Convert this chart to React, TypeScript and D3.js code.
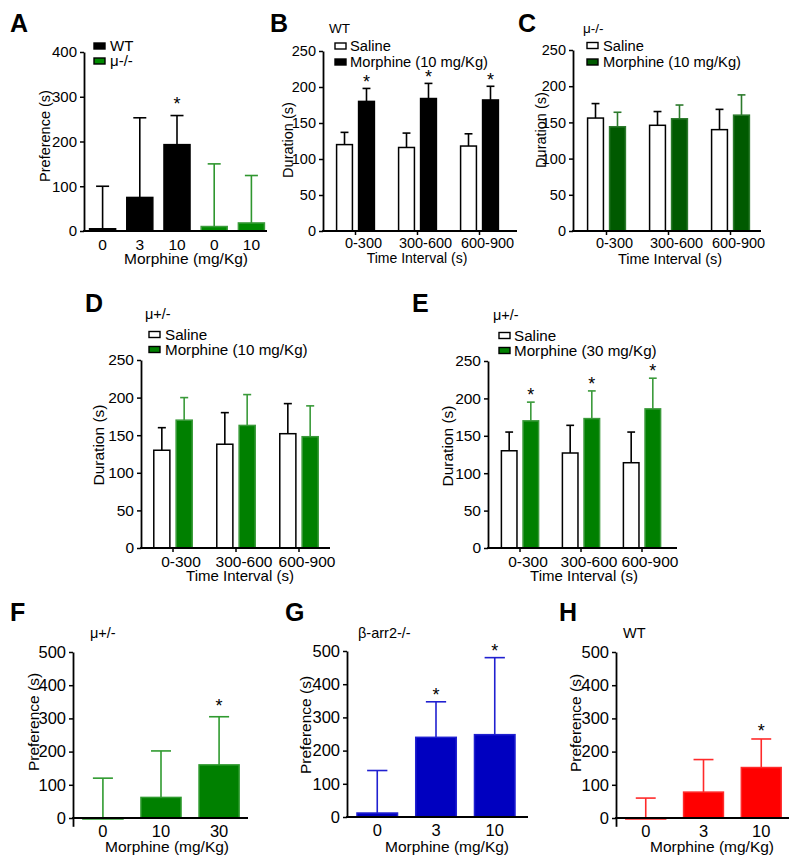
import * as d3 from "d3";
import React from "react";

const FONT = "'Liberation Sans', Arial, Helvetica, sans-serif";

// ---- panel A : preference, WT vs mu-/- ----
const aDoses = ["0", "3", "10", "0", "10"];
const aGenotypes = ["WT", "WT", "WT", "μ-/-", "μ-/-"];
const aMeans = [5, 75, 193, 10, 18];
const aSem = [95, 178, 65, 140, 106];
const aStars = [false, false, true, false, false];
const aTicks = [0, 100, 200, 300, 400];

// ---- panels B-E : duration per time interval ----
const intervals = ["0-300", "300-600", "600-900"];
const treatments = ["Saline", "Morphine"];
const durTicks = [0, 50, 100, 150, 200, 250];

const bSaline = [120, 116, 118];
const bSalineSem = [17, 20, 17];
const bMorphine = [180, 184, 182];
const bMorphineSem = [18, 21, 19];
const bStars = [true, true, true];

const cSaline = [156, 146, 140];
const cSalineSem = [20, 19, 28];
const cMorphine = [144, 155, 160];
const cMorphineSem = [20, 19, 28];
const cStars = [false, false, false];

const dSaline = [130, 138, 152];
const dSalineSem = [30, 42, 40];
const dMorphine = [170, 163, 148];
const dMorphineSem = [30, 41, 41];
const dStars = [false, false, false];

const eSaline = [130, 127, 114];
const eSalineSem = [25, 37, 41];
const eMorphine = [170, 173, 186];
const eMorphineSem = [25, 37, 41];
const eStars = [true, true, true];

// ---- panels F-H : preference by dose ----
const prefTicks = [0, 100, 200, 300, 400, 500];
const fDoses = ["0", "10", "30"];
const fMeans = [-3, 62, 160];
const fSem = [123, 140, 145];
const fStars = [false, false, true];

const gDoses = ["0", "3", "10"];
const gMeans = [12, 240, 248];
const gSem = [128, 107, 232];
const gStars = [false, true, true];

const hDoses = ["0", "3", "10"];
const hMeans = [-3, 78, 152];
const hSem = [63, 98, 86];
const hStars = [false, false, true];

function txt(g, x, y, s, fs, opts: any = {}) {
  const t = g
    .append("text")
    .attr("x", x)
    .attr("y", y)
    .attr("font-family", FONT)
    .attr("font-size", fs)
    .attr("fill", "#000")
    .text(s);
  if (opts.anchor) t.attr("text-anchor", opts.anchor);
  if (opts.bold) t.attr("font-weight", "bold");
  return t;
}

function yTitle(g, x, cy, s, fs) {
  g.append("text")
    .attr("transform", "translate(" + x + "," + cy + ") rotate(-90)")
    .attr("text-anchor", "middle")
    .attr("font-family", FONT)
    .attr("font-size", fs)
    .text(s);
}

function yAxis(g, y, x, ticks, fs) {
  const ax = g
    .append("g")
    .attr("transform", "translate(" + x + ",0)")
    .call(d3.axisLeft(y).tickValues(ticks).tickSize(4).tickPadding(3).tickSizeOuter(0));
  ax.select(".domain").attr("stroke", "#000").attr("stroke-width", 1.8);
  ax.selectAll(".tick line").attr("stroke", "#000").attr("stroke-width", 1.5);
  ax.selectAll("text").attr("font-family", FONT).attr("font-size", fs).attr("fill", "#000");
}

function xLine(g, x0, x1, yy) {
  g.append("line")
    .attr("x1", x0 - 0.9)
    .attr("x2", x1)
    .attr("y1", yy)
    .attr("y2", yy)
    .attr("stroke", "#000")
    .attr("stroke-width", 1.8);
}

function bar(g, x, w, y, v, fill, stroke) {
  const y0 = y(0);
  const y1 = y(v);
  g.append("rect")
    .attr("x", x)
    .attr("width", w)
    .attr("y", Math.min(y0, y1))
    .attr("height", Math.max(Math.abs(y0 - y1), 1))
    .attr("fill", fill)
    .attr("stroke", stroke)
    .attr("stroke-width", 1.5);
}

function errBar(g, cx, w, y, v, sem, color, star, gap) {
  const top = y(v + sem);
  g.append("line")
    .attr("x1", cx).attr("x2", cx)
    .attr("y1", y(Math.max(v, 0))).attr("y2", top)
    .attr("stroke", color).attr("stroke-width", 1.6);
  g.append("line")
    .attr("x1", cx - w / 4).attr("x2", cx + w / 4)
    .attr("y1", top).attr("y2", top)
    .attr("stroke", color).attr("stroke-width", 1.6);
  if (star) txt(g, cx, top - gap, "*", 18, { anchor: "middle" });
}

function legend(g, x, textX, rows, items, fs) {
  items.forEach((it, i) => {
    g.append("rect")
      .attr("x", x)
      .attr("y", rows[i] - 3)
      .attr("width", 11)
      .attr("height", 6)
      .attr("fill", it.fill)
      .attr("stroke", it.stroke)
      .attr("stroke-width", 1.4);
    txt(g, textX, rows[i] + fs * 0.36, it.label, fs);
  });
}

function xTicks(g, x, yy, ts, pad, fs, fmt, dx) {
  const ax = g
    .append("g")
    .attr("transform", "translate(0," + yy + ")")
    .call(d3.axisBottom(x).tickSize(ts).tickPadding(pad).tickFormat(fmt));
  ax.select(".domain").remove();
  ax.selectAll(".tick line").attr("stroke", "#000").attr("stroke-width", 1.5);
  ax.selectAll("text")
    .attr("font-family", FONT)
    .attr("font-size", fs)
    .attr("fill", "#000")
    .attr("dx", dx);
}

function grouped(svg, c) {
  const g = svg.append("g");
  const y = d3.scaleLinear().domain([0, 250]).range([c.y0, c.y1]);
  const x0 = d3.scaleBand().domain(intervals).range(c.range);
  const x1 = d3
    .scaleBand()
    .domain(treatments)
    .range([0, x0.bandwidth()])
    .paddingInner(0.28)
    .paddingOuter(0.55);
  const w = x1.bandwidth();
  intervals.forEach((iv, i) => {
    const xs = x0(iv) + x1("Saline");
    const xm = x0(iv) + x1("Morphine");
    bar(g, xs, w, y, c.saline[i], "#fff", "#000");
    errBar(g, xs + w / 2, w, y, c.saline[i], c.salineSem[i], "#000", false, 0);
    bar(g, xm, w, y, c.morphine[i], c.fill, c.stroke);
    errBar(g, xm + w / 2, w, y, c.morphine[i], c.morphineSem[i], c.err, c.stars[i], c.starGap);
  });
  yAxis(g, y, c.axisX, durTicks, c.fs);
  xLine(g, c.axisX, c.axisEnd, y(0));
  xTicks(g, x0, y(0), 4, c.tickPad, c.fs, (d) => d, 8);
  yTitle(g, c.yTitleX, c.yTitleY, "Duration (s)", c.fs);
  txt(g, c.xTitleX, c.xTitleY, "Time Interval (s)", c.titleFs, { anchor: "middle" });
  txt(g, c.letterX, c.letterY, c.letter, 25, { bold: true });
  txt(g, c.nameX, c.nameY, c.name, c.nameFs);
  legend(g, c.legX, c.legTextX, c.legRows, [
    { label: "Saline", fill: "#fff", stroke: "#000" },
    { label: c.morphLabel, fill: c.fill, stroke: c.legStroke },
  ], c.legFs);
}

function single(svg, c) {
  const g = svg.append("g");
  const y = d3.scaleLinear().domain([c.yMin, 500]).range([c.yLow, c.y1]);
  const x = d3
    .scaleBand()
    .domain(d3.range(c.doses.length))
    .range(c.range)
    .paddingInner(0.31)
    .paddingOuter(0.17);
  const w = x.bandwidth();
  c.means.forEach((m, i) => {
    bar(g, x(i), w, y, m, c.fill, c.stroke);
    errBar(g, x(i) + w / 2, w, y, m, c.sem[i], c.err, c.stars[i], c.starGap);
  });
  yAxis(g, y, c.axisX, prefTicks, 16.5);
  xLine(g, c.axisX, c.axisEnd, y(0));
  xTicks(g, x, y(0), 0, 7.5, 16.5, (i) => c.doses[i], 0);
  yTitle(g, c.yTitleX, c.yTitleY, "Preference (s)", 15.5);
  txt(g, c.xTitleX, 852, "Morphine (mg/Kg)", 15.5, { anchor: "middle" });
  txt(g, c.letterX, 621, c.letter, 25, { bold: true });
  txt(g, c.nameX, 638, c.name, 14.5);
}

const App = () => {
  const ref = React.useRef(null);
  React.useEffect(() => {
    const svg = d3.select(ref.current);
    svg.selectAll("*").remove();
    svg.append("rect").attr("width", 800).attr("height", 863).attr("fill", "#fff");

    // ---- A ----
    const gA = svg.append("g");
    const yA = d3.scaleLinear().domain([0, 400]).range([231, 52]);
    const xA = d3.scaleBand().domain(d3.range(aDoses.length)).range([84, 270]).paddingInner(0.3).paddingOuter(0.15);
    const wA = xA.bandwidth();
    aMeans.forEach((m, i) => {
      const wt = aGenotypes[i] === "WT";
      bar(gA, xA(i), wA, yA, m, wt ? "#000" : "#008a00", wt ? "#000" : "#3c9c3c");
      errBar(gA, xA(i) + wA / 2, wA, yA, m, aSem[i], wt ? "#000" : "#2f962f", aStars[i], 6);
    });
    yAxis(gA, yA, 84, aTicks, 15);
    xLine(gA, 84, 267, yA(0));
    xTicks(gA, xA, yA(0), 0, 7.8, 15.5, (i) => aDoses[i], 0);
    yTitle(gA, 50, 136, "Preference (s)", 14.5);
    txt(gA, 186, 264, "Morphine (mg/Kg)", 15.5, { anchor: "middle" });
    txt(gA, 10, 32, "A", 25, { bold: true });
    legend(gA, 94, 110, [46, 61], [
      { label: "WT", fill: "#000", stroke: "#000" },
      { label: "μ-/-", fill: "#008a00", stroke: "#000" },
    ], 15);

    // ---- B-E ----
    grouped(svg, {
      letter: "B", letterX: 270, letterY: 32, name: "WT", nameX: 329, nameY: 33, nameFs: 13.5,
      y0: 231, y1: 51, range: [324.5, 510.5], axisX: 323, axisEnd: 517, fs: 14.5, titleFs: 14, tickPad: 2.5,
      saline: bSaline, salineSem: bSalineSem, morphine: bMorphine, morphineSem: bMorphineSem, stars: bStars, starGap: 0,
      fill: "#000", stroke: "#000", err: "#000", legStroke: "#000", morphLabel: "Morphine (10 mg/Kg)",
      yTitleX: 293, yTitleY: 140, xTitleX: 417, xTitleY: 263,
      legX: 335, legTextX: 350, legRows: [46, 62], legFs: 14.7,
    });
    grouped(svg, {
      letter: "C", letterX: 518, letterY: 32, name: "μ-/-", nameX: 583, nameY: 33, nameFs: 13.5,
      y0: 231, y1: 50, range: [575.5, 761.5], axisX: 573, axisEnd: 761, fs: 14.5, titleFs: 14.5, tickPad: 2.5,
      saline: cSaline, salineSem: cSalineSem, morphine: cMorphine, morphineSem: cMorphineSem, stars: cStars, starGap: 0,
      fill: "#005a00", stroke: "#2c7a2c", err: "#2c7a2c", legStroke: "#000", morphLabel: "Morphine (10 mg/Kg)",
      yTitleX: 546, yTitleY: 130, xTitleX: 670, xTitleY: 264,
      legX: 587, legTextX: 603, legRows: [45.5, 62], legFs: 14.7,
    });
    grouped(svg, {
      letter: "D", letterX: 85, letterY: 312, name: "μ+/-", nameX: 145, nameY: 319, nameFs: 14.5,
      y0: 548, y1: 360, range: [141.5, 330.5], axisX: 141, axisEnd: 330, fs: 15.5, titleFs: 15, tickPad: 4,
      saline: dSaline, salineSem: dSalineSem, morphine: dMorphine, morphineSem: dMorphineSem, stars: dStars, starGap: 1,
      fill: "#008000", stroke: "#3a9a3a", err: "#3a9a3a", legStroke: "#000", morphLabel: "Morphine (10 mg/Kg)",
      yTitleX: 104, yTitleY: 445, xTitleX: 240, xTitleY: 581,
      legX: 149, legTextX: 165, legRows: [334.5, 349.5], legFs: 15.2,
    });
    grouped(svg, {
      letter: "E", letterX: 412, letterY: 312, name: "μ+/-", nameX: 493, nameY: 320, nameFs: 14.5,
      y0: 548, y1: 361, range: [489.5, 672.5], axisX: 488, axisEnd: 677, fs: 15.5, titleFs: 15, tickPad: 4,
      saline: eSaline, salineSem: eSalineSem, morphine: eMorphine, morphineSem: eMorphineSem, stars: eStars, starGap: 1,
      fill: "#008000", stroke: "#3a9a3a", err: "#3a9a3a", legStroke: "#000", morphLabel: "Morphine (30 mg/Kg)",
      yTitleX: 453, yTitleY: 446, xTitleX: 584, xTitleY: 581,
      legX: 499, legTextX: 514, legRows: [335.5, 350.5], legFs: 15.2,
    });

    // ---- F-H ----
    single(svg, {
      letter: "F", letterX: 10, name: "μ+/-", nameX: 90,
      doses: fDoses, means: fMeans, sem: fSem, stars: fStars, starGap: 5,
      yMin: -25, yLow: 826.3, y1: 652, range: [73, 249], axisX: 73, axisEnd: 248,
      fill: "#008000", stroke: "#2f9a2f", err: "#2f9a2f",
      yTitleX: 39, yTitleY: 722, xTitleX: 167,
    });
    single(svg, {
      letter: "G", letterX: 285, name: "β-arr2-/-", nameX: 358,
      doses: gDoses, means: gMeans, sem: gSem, stars: gStars, starGap: 1,
      yMin: 0, yLow: 817, y1: 651, range: [347, 525], axisX: 347, axisEnd: 528,
      fill: "#0000c0", stroke: "#2020d0", err: "#2020d0",
      yTitleX: 311, yTitleY: 725, xTitleX: 447,
    });
    single(svg, {
      letter: "H", letterX: 559, name: "WT", nameX: 623,
      doses: hDoses, means: hMeans, sem: hSem, stars: hStars, starGap: 2,
      yMin: -25, yLow: 826.3, y1: 652, range: [616, 791], axisX: 616, axisEnd: 789,
      fill: "#ff0000", stroke: "#ff2a2a", err: "#ff2a2a",
      yTitleX: 581, yTitleY: 723, xTitleX: 712,
    });
  }, []);

  return (
    <svg
      ref={ref}
      width={800}
      height={863}
      style={{ position: "absolute", left: 0, top: 0 }}
    ></svg>
  );
};

export default App;
